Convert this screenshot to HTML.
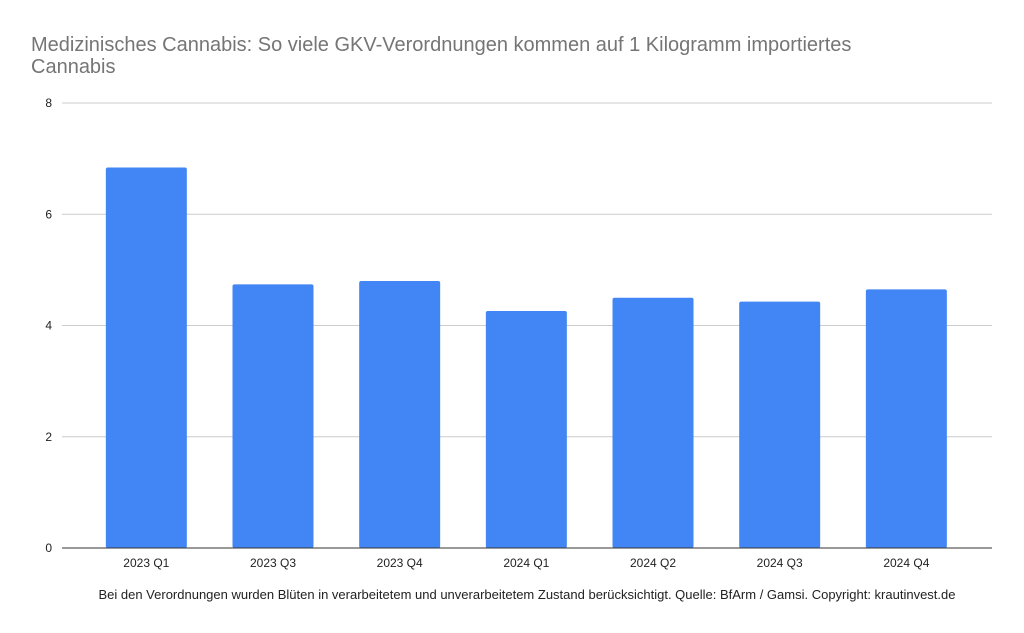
<!DOCTYPE html>
<html><head><meta charset="utf-8">
<style>
body{margin:0;background:#fff;font-family:"Liberation Sans",Arial,sans-serif;}
svg{display:block}
</style></head>
<body>
<svg id="chart" width="1024" height="633" xmlns="http://www.w3.org/2000/svg">
<rect width="1024" height="633" fill="#fff"/>
<text x="31" y="51" font-size="20" fill="#757575" font-family="Liberation Sans, Arial, sans-serif">Medizinisches Cannabis: So viele GKV-Verordnungen kommen auf 1 Kilogramm importiertes</text>
<text x="31" y="73" font-size="20" fill="#757575" font-family="Liberation Sans, Arial, sans-serif">Cannabis</text>
<g id="grid"></g>
<g id="bars"></g>
<g id="xlabels"></g>
<text x="527" y="599" font-size="13" text-anchor="middle" fill="#222" font-family="Liberation Sans, Arial, sans-serif">Bei den Verordnungen wurden Blüten in verarbeitetem und unverarbeitetem Zustand berücksichtigt. Quelle: BfArm / Gamsi. Copyright: krautinvest.de</text>
</svg>
<script>
const categories = ["2023 Q1","2023 Q3","2023 Q4","2024 Q1","2024 Q2","2024 Q3","2024 Q4"];
const values = [6.84, 4.74, 4.80, 4.26, 4.50, 4.43, 4.65];
const yTicks = [0, 2, 4, 6, 8];
const NS = "http://www.w3.org/2000/svg";
const plotL = 62, plotR = 992, y0 = 548, yTop = 103, yMax = 8;
const bandStart = 83, step = 126.67, barW = 81;
function y(v){ return y0 - (v / yMax) * (y0 - yTop); }
function xc(i){ return bandStart + step * (i + 0.5); }
function mk(tag, attrs, parent){ const e = document.createElementNS(NS, tag); for (const k in attrs) e.setAttribute(k, attrs[k]); parent.appendChild(e); return e; }
const grid = document.getElementById("grid");
yTicks.forEach(t => {
  const l = mk("line", {x1: plotL, x2: plotR, y1: y(t), y2: y(t), stroke: t === 0 ? "#333" : "#ccc", "stroke-width": 1}, grid);
  
  
  const tx = mk("text", {x: 52, y: y(t) + 4, "font-size": 12, "text-anchor": "end", fill: "#222", "font-family": "Liberation Sans, Arial, sans-serif"}, grid);
  tx.textContent = t;
  
  
});
const bars = document.getElementById("bars"), xl = document.getElementById("xlabels");
values.forEach((v, i) => {
  const r = mk("rect", {x: xc(i) - barW / 2, y: y(v), width: barW, height: y0 - y(v), fill: "#4285f4", rx: 2}, bars);
  
  
  const t = mk("text", {x: xc(i), y: 567, "font-size": 12, "text-anchor": "middle", fill: "#222", "font-family": "Liberation Sans, Arial, sans-serif"}, xl);
  t.textContent = categories[i];
  
  
});
// redraw baseline on top
const base = mk("line", {x1: plotL, x2: plotR, y1: y0, y2: y0, stroke: "#333", "stroke-width": 1}, bars);


</script>
</body></html>
